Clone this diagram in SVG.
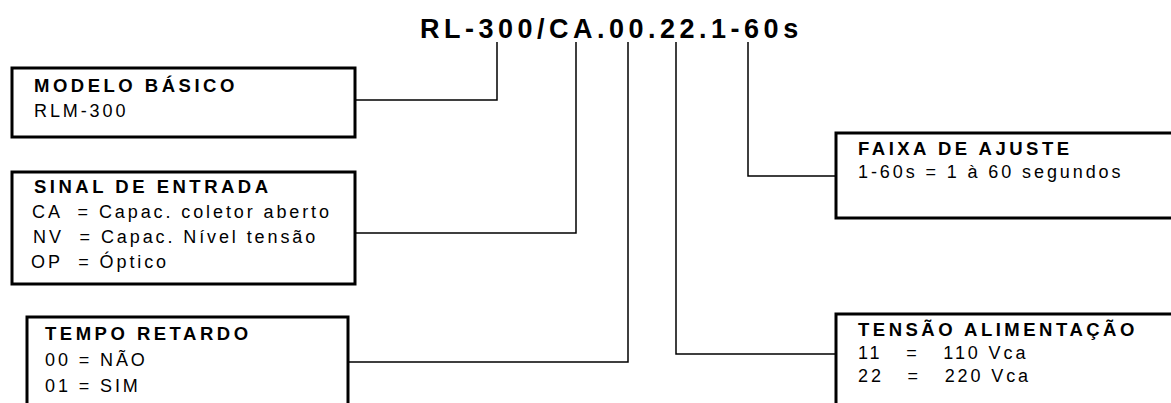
<svg xmlns="http://www.w3.org/2000/svg" width="1171" height="403" viewBox="0 0 1171 403">
<style>
.box{fill:#fff;stroke:#000;stroke-width:3}
.hd{font-family:"Liberation Sans",Arial,sans-serif;font-weight:bold;font-size:18.5px;letter-spacing:3.5px;fill:#000}
.tx{font-family:"Liberation Sans",Arial,sans-serif;font-size:18px;letter-spacing:2.9px;fill:#000}
.ttl{font-family:"Liberation Sans",Arial,sans-serif;font-weight:bold;font-size:27px;letter-spacing:4.5px;fill:#000}
.cn{fill:none;stroke:#000;stroke-width:1.5}
</style>
<rect width="1171" height="403" fill="#fff"/>
<text class="ttl" x="420" y="38">RL-300/CA.00.22.1-60s</text>
<g id="connectors">
<polyline class="cn" points="355,100 497,100 497,42"/>
<polyline class="cn" points="355,233 576,233 576,42"/>
<polyline class="cn" points="348,362 628,362 628,42"/>
<polyline class="cn" points="836,354 676,354 676,42"/>
<polyline class="cn" points="836,176 748,176 748,42"/>
</g>
<g id="modelo">
<rect class="box" x="12" y="68" width="343" height="69"/>
<text class="hd" x="34" y="92">MODELO BÁSICO</text>
<text class="tx" x="34" y="117">RLM-300</text>
</g>
<g id="sinal">
<rect class="box" x="12" y="172" width="343" height="112"/>
<text class="hd" x="34" y="193">SINAL DE ENTRADA</text>
<text class="tx" x="32" y="218" xml:space="preserve">CA  = Capac. coletor aberto</text>
<text class="tx" x="33" y="243" xml:space="preserve">NV  = Capac. Nível tensão</text>
<text class="tx" x="31" y="268" xml:space="preserve">OP  = Óptico</text>
</g>
<g id="tempo">
<rect class="box" x="27" y="317" width="321" height="100"/>
<text class="hd" x="45" y="340">TEMPO RETARDO</text>
<text class="tx" x="45" y="366">00 = NÃO</text>
<text class="tx" x="45" y="392">01 = SIM</text>
</g>
<g id="faixa">
<rect class="box" x="836" y="133" width="360" height="85"/>
<text class="hd" x="858" y="155">FAIXA DE AJUSTE</text>
<text class="tx" x="858" y="178">1-60s = 1 à 60 segundos</text>
</g>
<g id="tensao">
<rect class="box" x="836" y="314" width="360" height="100"/>
<text class="hd" x="858" y="336">TENSÃO ALIMENTAÇÃO</text>
<text class="tx" x="858" y="359" xml:space="preserve">11   =   110 Vca</text>
<text class="tx" x="858" y="382" xml:space="preserve">22   =   220 Vca</text>
</g>
</svg>
